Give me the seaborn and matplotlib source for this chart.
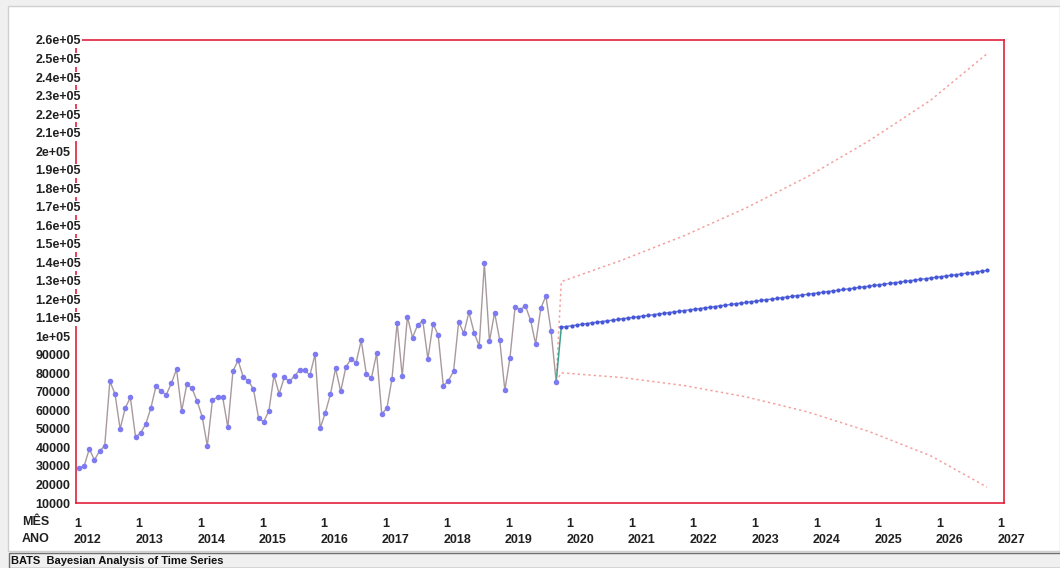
import numpy as np
import pandas as pd
import matplotlib
matplotlib.use("Agg")
import matplotlib.pyplot as plt
import seaborn as sns
from matplotlib.transforms import ScaledTranslation
from matplotlib.patches import Rectangle

# ---------------- data ----------------
# observed monthly values, Jan 2012 .. Oct 2019
obs_values = [
    28900, 30100, 39200, 33200, 38200, 40800, 75800, 68900, 50000, 61300, 67000, 45700,   # 2012
    47800, 52600, 61300, 73200, 70400, 68500, 74700, 82200, 59700, 74100, 72000, 65100,   # 2013
    56600, 40800, 65600, 67200, 67000, 50900, 81300, 87000, 78000, 76000, 71400, 55700,   # 2014
    53900, 59700, 79000, 68900, 77900, 75700, 78600, 81800, 81600, 79000, 90300, 50300,   # 2015
    58800, 68700, 82700, 70300, 83300, 87800, 85800, 97800, 79700, 77500, 90800, 58100,   # 2016
    61100, 77100, 107400, 78400, 110600, 99300, 106100, 108400, 87800, 106800, 100700, 73300,  # 2017
    76000, 81100, 107900, 101600, 113100, 102000, 94800, 139400, 97300, 112800, 98000, 70800,  # 2018
    88500, 116000, 114400, 116500, 108800, 95900, 115100, 121800, 103000, 75500,          # 2019
]
# forecast mean, Nov 2019 .. Oct 2026
fc_mean = [
    104900, 105300, 105700, 106100, 106500, 106900, 107300, 107600, 108000, 108400, 108700, 109100,
    109500, 109900, 110200, 110600, 111000, 111300, 111700, 112100, 112400, 112800, 113200, 113500,
    113900, 114300, 114600, 115000, 115400, 115700, 116100, 116500, 116800, 117200, 117600, 117900,
    118300, 118700, 119000, 119400, 119800, 120100, 120500, 120900, 121200, 121600, 122000, 122300,
    122700, 123100, 123400, 123800, 124200, 124500, 124900, 125300, 125600, 126000, 126400, 126700,
    127100, 127500, 127800, 128200, 128600, 128900, 129300, 129700, 130000, 130400, 130800, 131100,
    131500, 131900, 132200, 132600, 133000, 133300, 133700, 134100, 134400, 134800, 135200, 135600,
]
# forecast interval limits (month index from Jan 2012 = 0)
band_months = [93, 94, 106, 118, 130, 142, 154, 166, 177]
band_upper = [75500, 129500, 141300, 154400, 169300, 186200, 205600, 227500, 252600]
band_lower = [75500, 80300, 77700, 73400, 67300, 59200, 48600, 35500, 18600]

year_labels = ["2012", "2013", "2014", "2015", "2016", "2017", "2018", "2019",
               "2020", "2021", "2022", "2023", "2024", "2025", "2026", "2027"]
month_label = "1"
y_ticks = [10000, 20000, 30000, 40000, 50000, 60000, 70000, 80000, 90000, 100000,
           110000, 120000, 130000, 140000, 150000, 160000, 170000, 180000, 190000,
           200000, 210000, 220000, 230000, 240000, 250000, 260000]
y_tick_labels = ["10000", "20000", "30000", "40000", "50000", "60000", "70000", "80000",
                 "90000", "1e+05", "1.1e+05", "1.2e+05", "1.3e+05", "1.4e+05", "1.5e+05",
                 "1.6e+05", "1.7e+05", "1.8e+05", "1.9e+05", "2e+05", "2.1e+05", "2.2e+05",
                 "2.3e+05", "2.4e+05", "2.5e+05", "2.6e+05"]

# ---------------- frames ----------------
n_obs = len(obs_values)
df_obs = pd.DataFrame({"month": np.arange(n_obs), "value": obs_values})
df_fc = pd.DataFrame({"month": np.arange(n_obs, n_obs + len(fc_mean)), "value": fc_mean})
df_bridge = pd.DataFrame({"month": [n_obs - 1, n_obs], "value": [obs_values[-1], fc_mean[0]]})
df_up = pd.DataFrame({"month": band_months, "value": band_upper})
df_lo = pd.DataFrame({"month": band_months, "value": band_lower})

# ---------------- style ----------------
sns.set_theme(style="white")
plt.rcParams["font.family"] = ["Liberation Sans", "DejaVu Sans"]
plt.rcParams["font.weight"] = "bold"

W, H = 1060, 568
fig = plt.figure(figsize=(W / 100, H / 100), dpi=100)
fig.patch.set_facecolor("#f0f0f0")
# white chart panel
fig.add_artist(Rectangle((8 / W, (H - 551) / H), 1.0 - 8 / W, (551 - 6) / H,
                         transform=fig.transFigure, facecolor="white",
                         edgecolor="#d0d0d0", lw=1, zorder=0))
# status bar
fig.add_artist(Rectangle((9 / W, 0.0), 1.0, (H - 553) / H, transform=fig.transFigure,
                         facecolor="#f0f0f0", edgecolor="#707070", lw=1, zorder=0))
fig.text(11 / W, (H - 561) / H, "BATS  Bayesian Analysis of Time Series", fontsize=8,
         fontweight="bold", color="#101010", va="center", ha="left")

ax = fig.add_axes([76 / W, (H - 503) / H, (1004 - 76) / W, (503 - 40) / H])
ax.set_facecolor("white")

red = "#e3203c"
band_col = "#f5a0a0"

sns.lineplot(data=df_up, x="month", y="value", ax=ax, color=band_col, lw=1.1,
             linestyle=(0, (1.5, 2.0)), zorder=2)
sns.lineplot(data=df_lo, x="month", y="value", ax=ax, color=band_col, lw=1.1,
             linestyle=(0, (1.5, 2.0)), zorder=2)
sns.lineplot(data=df_bridge, x="month", y="value", ax=ax, color="#3a9e8c", lw=1.1, zorder=3)
sns.lineplot(data=df_obs, x="month", y="value", ax=ax, color="#a8999c", lw=1.0,
             marker="o", markersize=4.0, markerfacecolor="#7e7bf2",
             markeredgecolor="#7e7bf2", markeredgewidth=0, zorder=4)
sns.lineplot(data=df_fc, x="month", y="value", ax=ax, color="#6675e2", lw=1.0,
             marker="o", markersize=3.0, markerfacecolor="#4556d6",
             markeredgecolor="#4556d6", markeredgewidth=0, zorder=4)

ax.set_xlim(-0.6, 180.3)
ax.set_ylim(10000, 260000)
ax.set_xlabel("")
ax.set_ylabel("")

for s in ax.spines.values():
    s.set_visible(True)
    s.set_color(red)
    s.set_linewidth(1.2)

ax.set_yticks(y_ticks)
ax.set_yticklabels(y_tick_labels)
ax.tick_params(axis="y", length=0, pad=29, labelsize=9, labelcolor="#202020")
for lab in ax.get_yticklabels():
    lab.set_horizontalalignment("left")
    lab.set_fontweight("bold")
    lab.set_bbox(dict(facecolor="white", edgecolor="none", pad=0.6))
ax.yaxis.set_zorder(5)

xt = [12 * i for i in range(len(year_labels))]
ax.set_xticks(xt)
ax.set_xticklabels([f"{month_label}\n{y}" for y in year_labels])
ax.tick_params(axis="x", length=0, pad=11, labelsize=9, labelcolor="#202020")
for lab in ax.get_xticklabels():
    lab.set_horizontalalignment("left")
    lab.set_multialignment("left")
    lab.set_linespacing(1.45)
    lab.set_fontweight("bold")
    lab.set_transform(lab.get_transform() + ScaledTranslation(-5 / 100, 0, fig.dpi_scale_trans))

fig.text(22 / W, (H - 522) / H, "MÊS", fontsize=9, fontweight="bold", color="#202020",
         va="center", ha="left")
fig.text(22 / W, (H - 539) / H, "ANO", fontsize=9, fontweight="bold", color="#202020",
         va="center", ha="left")

fig.savefig("out.png", dpi=100, facecolor=fig.get_facecolor())
